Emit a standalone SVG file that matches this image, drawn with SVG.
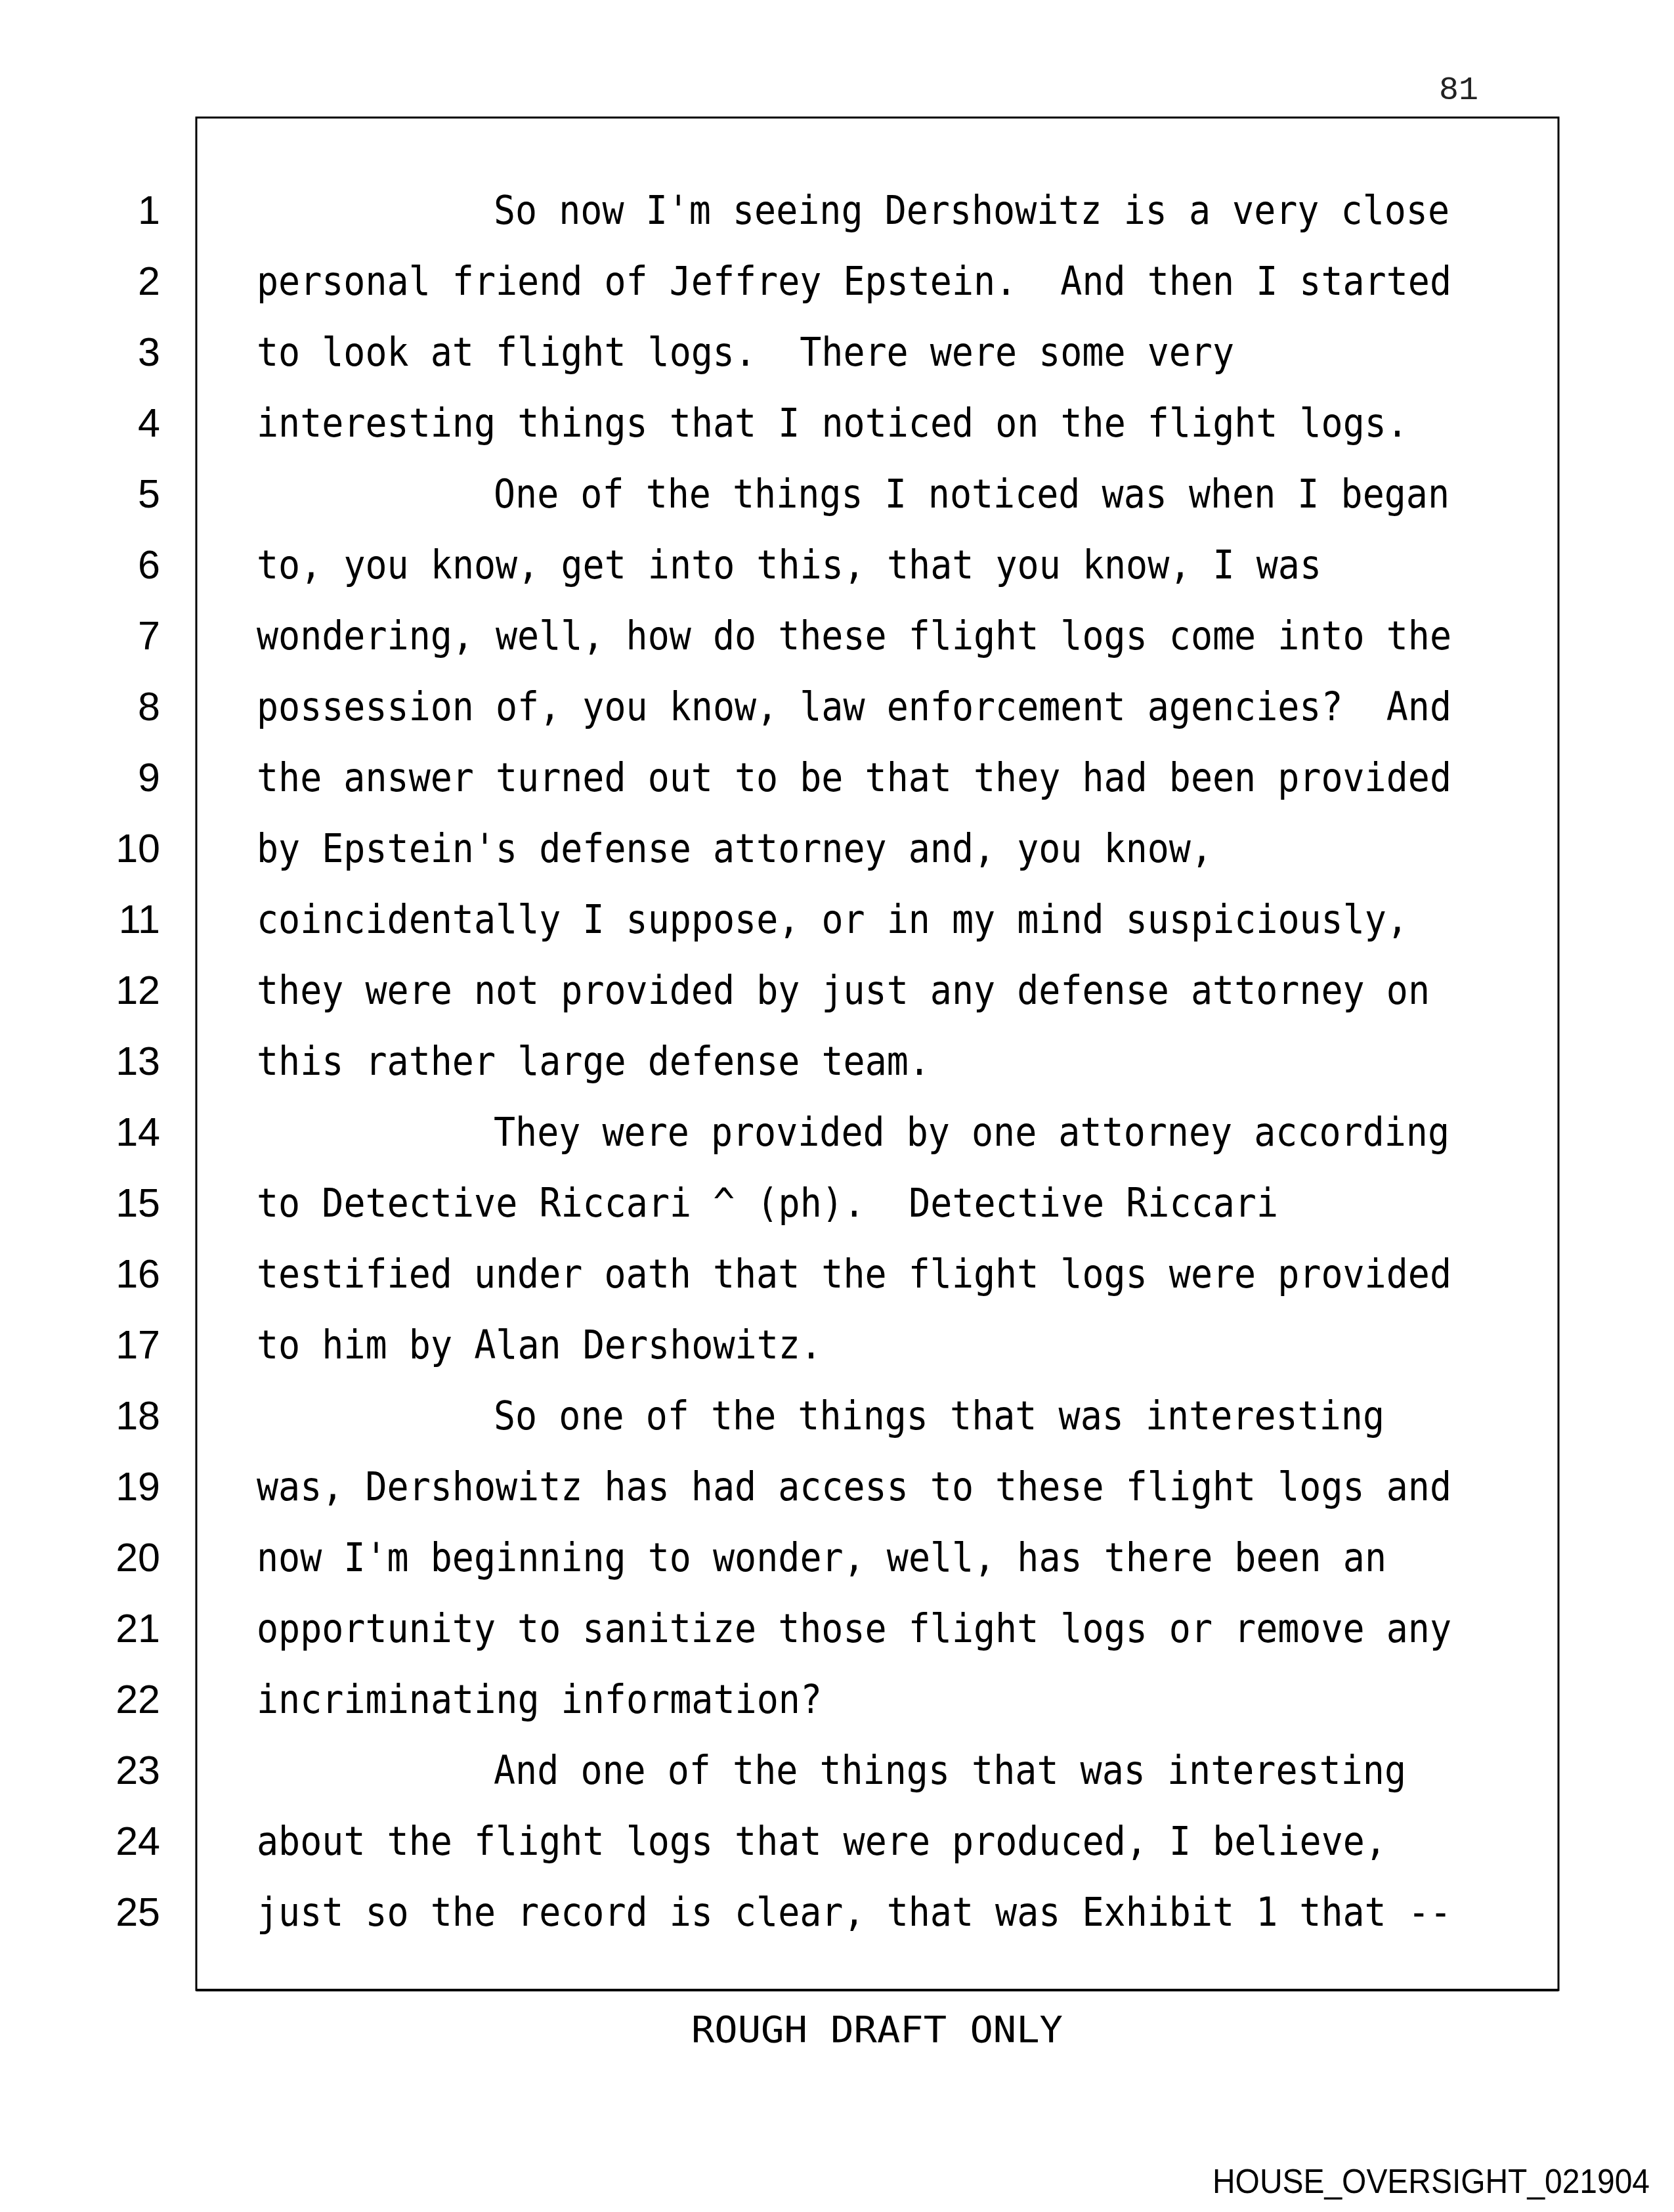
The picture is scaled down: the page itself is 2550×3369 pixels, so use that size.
<svg xmlns="http://www.w3.org/2000/svg" width="2550" height="3369" viewBox="0 0 2550 3369">
<style>
.t{font-family:"DejaVu Sans Mono","Liberation Mono",monospace;font-size:60px;fill:#000;white-space:pre}
.n{font-family:"Liberation Sans",Arial,sans-serif;font-size:61px;fill:#000;text-anchor:end}
.pg{font-family:"Liberation Mono","DejaVu Sans Mono",monospace;font-size:50px;fill:#222;text-anchor:end}
.ft{font-family:"DejaVu Sans Mono","Liberation Mono",monospace;font-size:55px;fill:#000;white-space:pre}
.bates{font-family:"Liberation Sans",Arial,sans-serif;font-size:52px;fill:#000}
</style>
<rect width="2550" height="3369" fill="#fff"/>
<g id="page-number"><text class="pg" x="2252" y="151">81</text></g>
<g id="frame"><rect x="299" y="179" width="2075" height="2852" fill="none" stroke="#000" stroke-width="3"/><line x1="299" y1="3031" x2="2374" y2="3031" stroke="#000" stroke-width="4"/></g>
<g id="line-numbers">
<text class="n" x="244" y="341">1</text>
<text class="n" x="244" y="449">2</text>
<text class="n" x="244" y="557">3</text>
<text class="n" x="244" y="665">4</text>
<text class="n" x="244" y="773">5</text>
<text class="n" x="244" y="881">6</text>
<text class="n" x="244" y="989">7</text>
<text class="n" x="244" y="1097">8</text>
<text class="n" x="244" y="1205">9</text>
<text class="n" x="244" y="1313">10</text>
<text class="n" x="244" y="1421">11</text>
<text class="n" x="244" y="1529">12</text>
<text class="n" x="244" y="1637">13</text>
<text class="n" x="244" y="1745">14</text>
<text class="n" x="244" y="1853">15</text>
<text class="n" x="244" y="1961">16</text>
<text class="n" x="244" y="2069">17</text>
<text class="n" x="244" y="2177">18</text>
<text class="n" x="244" y="2285">19</text>
<text class="n" x="244" y="2393">20</text>
<text class="n" x="244" y="2501">21</text>
<text class="n" x="244" y="2609">22</text>
<text class="n" x="244" y="2717">23</text>
<text class="n" x="244" y="2825">24</text>
<text class="n" x="244" y="2933">25</text>
</g>
<g id="transcript">
<text class="t" x="752" y="341" textLength="1456" lengthAdjust="spacingAndGlyphs">So now I'm seeing Dershowitz is a very close</text>
<text class="t" x="391" y="449" textLength="1820" lengthAdjust="spacingAndGlyphs" xml:space="preserve">personal friend of Jeffrey Epstein.  And then I started</text>
<text class="t" x="391" y="557" textLength="1489" lengthAdjust="spacingAndGlyphs" xml:space="preserve">to look at flight logs.  There were some very</text>
<text class="t" x="391" y="665" textLength="1754" lengthAdjust="spacingAndGlyphs">interesting things that I noticed on the flight logs.</text>
<text class="t" x="752" y="773" textLength="1456" lengthAdjust="spacingAndGlyphs">One of the things I noticed was when I began</text>
<text class="t" x="391" y="881" textLength="1622" lengthAdjust="spacingAndGlyphs">to, you know, get into this, that you know, I was</text>
<text class="t" x="391" y="989" textLength="1820" lengthAdjust="spacingAndGlyphs">wondering, well, how do these flight logs come into the</text>
<text class="t" x="391" y="1097" textLength="1820" lengthAdjust="spacingAndGlyphs" xml:space="preserve">possession of, you know, law enforcement agencies?  And</text>
<text class="t" x="391" y="1205" textLength="1820" lengthAdjust="spacingAndGlyphs">the answer turned out to be that they had been provided</text>
<text class="t" x="391" y="1313" textLength="1456" lengthAdjust="spacingAndGlyphs">by Epstein's defense attorney and, you know,</text>
<text class="t" x="391" y="1421" textLength="1754" lengthAdjust="spacingAndGlyphs">coincidentally I suppose, or in my mind suspiciously,</text>
<text class="t" x="391" y="1529" textLength="1787" lengthAdjust="spacingAndGlyphs">they were not provided by just any defense attorney on</text>
<text class="t" x="391" y="1637" textLength="1026" lengthAdjust="spacingAndGlyphs">this rather large defense team.</text>
<text class="t" x="752" y="1745" textLength="1456" lengthAdjust="spacingAndGlyphs">They were provided by one attorney according</text>
<text class="t" x="391" y="1853" textLength="1556" lengthAdjust="spacingAndGlyphs" xml:space="preserve">to Detective Riccari ^ (ph).  Detective Riccari</text>
<text class="t" x="391" y="1961" textLength="1820" lengthAdjust="spacingAndGlyphs">testified under oath that the flight logs were provided</text>
<text class="t" x="391" y="2069" textLength="861" lengthAdjust="spacingAndGlyphs">to him by Alan Dershowitz.</text>
<text class="t" x="752" y="2177" textLength="1357" lengthAdjust="spacingAndGlyphs">So one of the things that was interesting</text>
<text class="t" x="391" y="2285" textLength="1820" lengthAdjust="spacingAndGlyphs">was, Dershowitz has had access to these flight logs and</text>
<text class="t" x="391" y="2393" textLength="1721" lengthAdjust="spacingAndGlyphs">now I'm beginning to wonder, well, has there been an</text>
<text class="t" x="391" y="2501" textLength="1820" lengthAdjust="spacingAndGlyphs">opportunity to sanitize those flight logs or remove any</text>
<text class="t" x="391" y="2609" textLength="861" lengthAdjust="spacingAndGlyphs">incriminating information?</text>
<text class="t" x="752" y="2717" textLength="1390" lengthAdjust="spacingAndGlyphs">And one of the things that was interesting</text>
<text class="t" x="391" y="2825" textLength="1721" lengthAdjust="spacingAndGlyphs">about the flight logs that were produced, I believe,</text>
<text class="t" x="391" y="2933" textLength="1820" lengthAdjust="spacingAndGlyphs">just so the record is clear, that was Exhibit 1 that --</text>
</g>
<g id="footer">
<text class="ft" x="1053" y="3110" textLength="566" lengthAdjust="spacingAndGlyphs">ROUGH DRAFT ONLY</text>
<text class="bates" x="1847" y="3340" textLength="666" lengthAdjust="spacingAndGlyphs">HOUSE_OVERSIGHT_021904</text>
</g>
</svg>
